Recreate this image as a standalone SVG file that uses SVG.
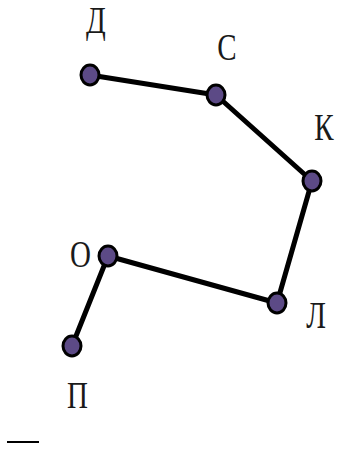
<svg xmlns="http://www.w3.org/2000/svg" width="337" height="449" viewBox="0 0 337 449">
<style>
.n{fill:#5c4a86;stroke:#000;stroke-width:3}
.e{stroke:#000;stroke-width:5;fill:none;stroke-linejoin:round}
.t{font-family:"Liberation Serif",serif;font-size:29px;fill:#1a1a1a;text-anchor:middle}
</style>
<rect width="337" height="449" fill="#fff"/>
<g id="edges">
<polyline class="e" points="90,75 216,95 312,181 277,303 108,256 72,346"/>
</g>
<g id="nД"><ellipse class="n" cx="90" cy="75" rx="9" ry="10"/><text class="t" transform="translate(96,33) scale(1,1.3)">Д</text></g>
<g id="nС"><ellipse class="n" cx="216" cy="95" rx="9" ry="10"/><text class="t" transform="translate(227,60) scale(1,1.3)">С</text></g>
<g id="nК"><ellipse class="n" cx="312" cy="181" rx="9" ry="10"/><text class="t" transform="translate(324,140) scale(1,1.3)">К</text></g>
<g id="nЛ"><ellipse class="n" cx="277" cy="303" rx="9" ry="10"/><text class="t" transform="translate(316,328) scale(1,1.3)">Л</text></g>
<g id="nО"><ellipse class="n" cx="108" cy="256" rx="9" ry="10"/><text class="t" transform="translate(80.5,267) scale(1,1.3)">О</text></g>
<g id="nП"><ellipse class="n" cx="72" cy="346" rx="9" ry="10"/><text class="t" transform="translate(77.5,408) scale(1,1.3)">П</text></g>
<rect x="7" y="441" width="32" height="2" fill="#000"/>
</svg>
